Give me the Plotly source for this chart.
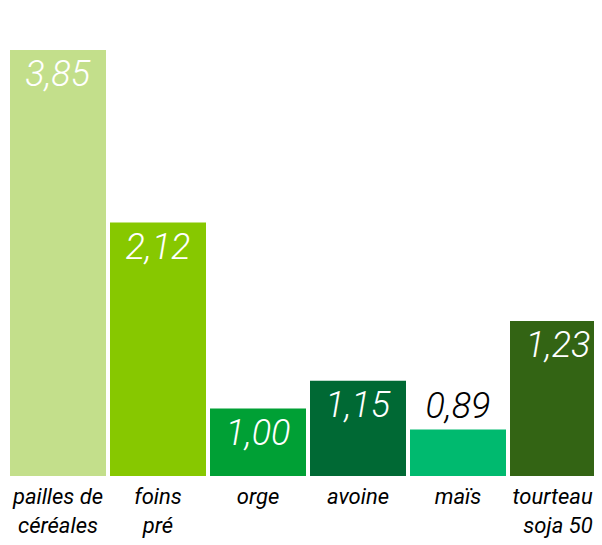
import plotly.graph_objects as go

categories = ["pailles de<br>céréales", "foins<br>pré", "orge", "avoine", "maïs", "tourteau&nbsp;&nbsp;<br>soja 50"]
values = [3.85, 2.12, 1.00, 1.15, 0.89, 1.23]
# bar heights as drawn in the picture (same units, tallest bar = 3.85)
bar_heights = [3.85, 2.29, 0.61, 0.86, 0.42, 1.40]
value_labels = ["3,85", "2,12", "1,00", "1,15", "0,89", "1,23"]
colors = ["#C3DF8B", "#87C800", "#00A035", "#006934", "#00BA6F", "#336414"]
label_colors = ["white", "white", "white", "white", "black", "white"]
text_positions = ["inside", "inside", "inside", "inside", "outside", "inside"]

FONT = "Roboto, Lato, sans-serif"

fig = go.Figure(go.Bar(
    x=list(range(len(categories))),
    y=bar_heights,
    marker=dict(color=colors, line=dict(width=0)),
    text=value_labels,
    textposition=text_positions,
    insidetextanchor="end",
    constraintext="none",
    textfont=dict(family=FONT, size=36, color=label_colors, style="italic", weight=300),
    cliponaxis=False,
    hoverinfo="skip",
))

fig.update_layout(
    width=586, height=537,
    margin=dict(l=0, r=0, t=42, b=69, autoexpand=False),
    paper_bgcolor="white", plot_bgcolor="white",
    bargap=0.04,
    showlegend=False,
    xaxis=dict(
        range=[-0.50, 5.36],
        tickmode="array", tickvals=list(range(len(categories))), ticktext=categories,
        tickfont=dict(family=FONT, size=22, color="black", style="italic"),
        ticklabelstandoff=5,
        ticklabeloverflow="allow",
        automargin=False,
        showgrid=False, zeroline=False, showline=False, ticks="",
    ),
    yaxis=dict(range=[0, 3.85], visible=False, showgrid=False, zeroline=False, automargin=False),
)

fig.write_html("out.html")
